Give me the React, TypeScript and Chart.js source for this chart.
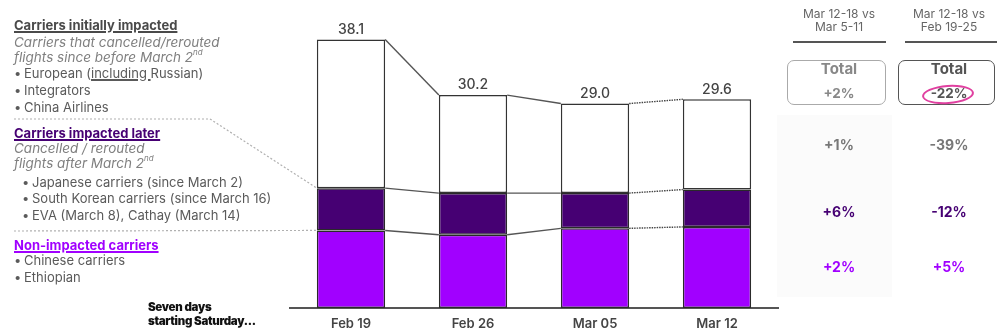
import React, { useEffect, useRef } from "react";
import { Chart, registerables } from "chart.js";

Chart.register(...registerables);

const categories = ["Feb 19", "Feb 26", "Mar 05", "Mar 12"];
const nonImpacted = [11.0, 10.4, 11.3, 11.5];
const impactedLater = [6.0, 5.9, 5.0, 5.3];
const initiallyImpacted = [21.1, 13.9, 12.7, 12.8];

const colHeaders = [
  ["Mar 12-18 vs", "Mar 5-11"],
  ["Mar 12-18 vs", "Feb 19-25"],
];
const totalChanges = ["+2%", "-22%"];
const initialChanges = ["+1%", "-39%"];
const laterChanges = ["+6%", "-12%"];
const nonImpactedChanges = ["+2%", "+5%"];

const FONT = "Inter, 'DejaVu Sans', sans-serif";
const DARK = "#460073";
const PURPLE = "#A100FF";

const overlayPlugin = {
  id: "overlay",
  beforeDatasetsDraw(chart: any) {
    const ctx = chart.ctx;
    const m1 = chart.getDatasetMeta(1).data[0];
    const m0 = chart.getDatasetMeta(0).data[0];
    if (!m1 || !m0) return;
    const left = m1.x - m1.width / 2;
    ctx.save();
    ctx.strokeStyle = "#b0b0b0";
    ctx.lineWidth = 1.2;
    ctx.setLineDash([2, 2]);
    ctx.beginPath();
    ctx.moveTo(14, 119);
    ctx.lineTo(210, 119);
    ctx.lineTo(left, m1.y);
    ctx.stroke();
    ctx.beginPath();
    ctx.moveTo(14, 231);
    ctx.lineTo(left, m0.y);
    ctx.stroke();
    ctx.restore();
  },
  afterDatasetsDraw(chart: any) {
    const ctx = chart.ctx;
    ctx.save();
    const n = chart.data.labels.length;
    chart.data.datasets.forEach((_: any, d: number) => {
      const meta = chart.getDatasetMeta(d);
      for (let i = 0; i < n - 1; i++) {
        const a = meta.data[i];
        const b = meta.data[i + 1];
        ctx.strokeStyle = i === n - 2 ? "#444" : "#555";
        ctx.lineWidth = 1.4;
        ctx.setLineDash(i === n - 2 ? [1.5, 1] : []);
        ctx.beginPath();
        ctx.moveTo(a.x + a.width / 2, a.y);
        ctx.lineTo(b.x - b.width / 2, b.y);
        ctx.stroke();
      }
    });
    ctx.setLineDash([]);
    const top = chart.getDatasetMeta(chart.data.datasets.length - 1);
    ctx.fillStyle = "#444";
    ctx.font = `500 14px ${FONT}`;
    ctx.textAlign = "center";
    ctx.textBaseline = "middle";
    for (let i = 0; i < n; i++) {
      const total = nonImpacted[i] + impactedLater[i] + initiallyImpacted[i];
      const el = top.data[i];
      ctx.fillText(total.toFixed(1), el.x, el.y - 10);
    }
    ctx.restore();
  },
};

type Line = {
  t: React.ReactNode;
  y: number;
  s?: React.CSSProperties;
  bullet?: number;
  tx?: number;
};

const gray = "#5a5a5a";
const lightGray = "#808080";
const supStyle: React.CSSProperties = { fontSize: 8, verticalAlign: "top", lineHeight: "10px", position: "relative", top: -1 };
const italic: React.CSSProperties = { fontStyle: "italic", color: lightGray, fontSize: 13.5 };
const head: React.CSSProperties = { fontWeight: 700, fontSize: 13 };
const uStyle: React.CSSProperties = { textDecorationThickness: 1.5 };

const leftLines: Line[] = [
  { t: <u style={uStyle}>Carriers initially impacted</u>, y: 25, s: { ...head, color: "#4a4a4a" } },
  { t: "Carriers that cancelled/rerouted", y: 42, s: italic },
  { t: <>flights since before March 2<span style={supStyle}>nd</span></>, y: 57, s: italic },
  { t: <>European (<u style={uStyle}>including </u>Russian)</>, y: 73, bullet: 14, tx: 24 },
  { t: "Integrators", y: 90, bullet: 14, tx: 24 },
  { t: "China Airlines", y: 107, bullet: 14, tx: 24 },
  { t: <u style={uStyle}>Carriers impacted later</u>, y: 133, s: { ...head, color: DARK } },
  { t: "Cancelled / rerouted", y: 148, s: italic },
  { t: <>flights after March 2<span style={supStyle}>nd</span></>, y: 163, s: italic },
  { t: "Japanese carriers (since March 2)", y: 182, bullet: 22, tx: 32 },
  { t: "South Korean carriers (since March 16)", y: 198, bullet: 22, tx: 32 },
  { t: "EVA (March 8), Cathay (March 14)", y: 215, bullet: 22, tx: 32 },
  { t: <u style={uStyle}>Non-impacted carriers</u>, y: 245, s: { ...head, color: PURPLE } },
  { t: "Chinese carriers", y: 260, bullet: 14, tx: 24 },
  { t: "Ethiopian", y: 277, bullet: 14, tx: 24 },
];

export default function App() {
  const ref = useRef<HTMLCanvasElement>(null);

  useEffect(() => {
    document.body.style.margin = "0";
    if (!ref.current) return;
    const chart = new Chart(ref.current, {
      type: "bar",
      data: {
        labels: categories,
        datasets: [
          {
            label: "Non-impacted carriers",
            data: nonImpacted,
            backgroundColor: PURPLE,
            borderColor: "#2a2a2a",
            borderWidth: 1.5,
            borderSkipped: false,
          },
          {
            label: "Carriers impacted later",
            data: impactedLater,
            backgroundColor: DARK,
            borderColor: "#2a2a2a",
            borderWidth: 1.5,
            borderSkipped: false,
          },
          {
            label: "Carriers initially impacted",
            data: initiallyImpacted,
            backgroundColor: "#ffffff",
            borderColor: "#333333",
            borderWidth: 1.5,
            borderSkipped: false,
          },
        ],
      },
      options: {
        responsive: false,
        animation: false,
        devicePixelRatio: 1,
        layout: { padding: { left: 290, right: 219, top: 26, bottom: 0 } },
        plugins: {
          legend: { display: false },
          tooltip: { enabled: false },
        },
        datasets: { bar: { barPercentage: 0.56, categoryPercentage: 1 } },
        scales: {
          x: {
            stacked: true,
            grid: { display: false, drawTicks: false },
            border: { display: true, color: "#555", width: 2 },
            ticks: {
              color: "#444",
              padding: 8,
              font: { family: FONT, size: 13, weight: 600 },
            },
            afterFit: (s: any) => {
              s.height = 25;
            },
          },
          y: {
            stacked: true,
            display: false,
            min: 0,
            max: 40,
          },
        },
      },
      plugins: [overlayPlugin],
    } as any);
    return () => chart.destroy();
  }, []);

  const colCenters = [839, 949];

  return (
    <div style={{ position: "relative", width: 997, height: 333, background: "#fff", fontFamily: FONT, overflow: "hidden" }}>
      <div style={{ position: "absolute", left: 777, top: 115, width: 115, height: 182, background: "#fbfbfb" }} />
      <canvas ref={ref} width={997} height={333} style={{ position: "absolute", left: 0, top: 0 }} />
      {leftLines.map((l, i) => {
        const base: React.CSSProperties = {
          position: "absolute",
          top: l.y - 9,
          height: 18,
          lineHeight: "18px",
          fontSize: 13,
          whiteSpace: "nowrap",
          color: gray,
        };
        return (
          <React.Fragment key={i}>
            {l.bullet !== undefined && (
              <div style={{ ...base, left: l.bullet }}>•</div>
            )}
            <div style={{ ...base, left: l.tx ?? 14, ...l.s }}>{l.t}</div>
          </React.Fragment>
        );
      })}
      <div style={{ position: "absolute", left: 148, top: 300, fontSize: 11.5, fontWeight: 900, color: "#111", lineHeight: "14px", letterSpacing: -0.3 }}>
        Seven days
        <br />
        starting Saturday...
      </div>
      {colCenters.map((cx, c) => (
        <React.Fragment key={c}>
          <div
            style={{
              position: "absolute",
              left: cx - 55,
              width: 110,
              top: 7,
              textAlign: "center",
              fontSize: 12,
              lineHeight: "13px",
              color: "#666",
              whiteSpace: "nowrap",
            }}
          >
            {colHeaders[c][0]}
            <br />
            {colHeaders[c][1]}
          </div>
          <div
            style={{
              position: "absolute",
              left: c === 0 ? 793 : 905,
              width: c === 0 ? 93 : 92,
              top: 41,
              height: 2,
              background: "#555",
            }}
          />
          <div
            style={{
              position: "absolute",
              left: c === 0 ? 787 : 898,
              width: c === 0 ? 99 : 97,
              top: 60,
              height: 45,
              boxSizing: "border-box",
              border: c === 0 ? "1.5px solid #aaa" : "1.5px solid #555",
              borderRadius: 7,
            }}
          />
          <div
            style={{
              position: "absolute",
              left: cx - 45,
              width: 90,
              top: 60,
              lineHeight: "18px",
              textAlign: "center",
              fontWeight: 700,
              fontSize: 15,
              color: c === 0 ? "#888" : "#555",
            }}
          >
            Total
          </div>
          <div
            style={{
              position: "absolute",
              left: cx - 45,
              width: 90,
              top: 84,
              lineHeight: "18px",
              textAlign: "center",
              fontWeight: 700,
              fontSize: 13.5,
              color: c === 0 ? "#888" : "#555",
            }}
          >
            {totalChanges[c]}
          </div>
          <div style={{ position: "absolute", left: cx - 40, width: 80, top: 136, lineHeight: "18px", textAlign: "center", fontSize: 14, fontWeight: 700, color: "#777" }}>
            {initialChanges[c]}
          </div>
          <div style={{ position: "absolute", left: cx - 40, width: 80, top: 203, lineHeight: "18px", textAlign: "center", fontSize: 14, fontWeight: 700, color: DARK }}>
            {laterChanges[c]}
          </div>
          <div style={{ position: "absolute", left: cx - 40, width: 80, top: 258, lineHeight: "18px", textAlign: "center", fontSize: 14, fontWeight: 700, color: PURPLE }}>
            {nonImpactedChanges[c]}
          </div>
        </React.Fragment>
      ))}
      <div
        style={{
          position: "absolute",
          left: 922,
          top: 85,
          width: 52,
          height: 19,
          border: "2px solid #e040a0",
          borderRadius: "50%",
          boxSizing: "border-box",
          transform: "rotate(-4deg)",
        }}
      />
    </div>
  );
}
